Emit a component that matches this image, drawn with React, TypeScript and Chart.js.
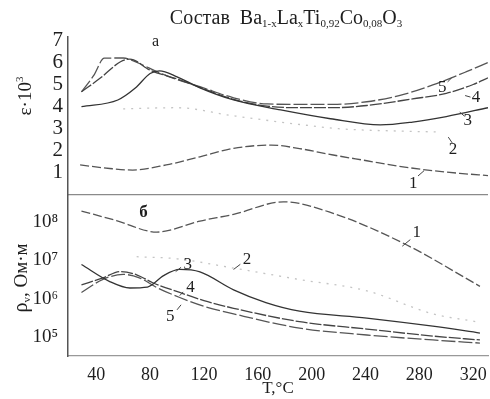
import React, { useEffect, useRef } from "react";
import { Chart, registerables } from "chart.js";

Chart.register(...registerables);

const FONT = "'Liberation Serif', 'DejaVu Serif', 'Times New Roman', serif";

// Temperature ticks (°C)
const T_TICKS = [40, 80, 120, 160, 200, 240, 280, 320];
// ε·10³ ticks
const EPS_TICKS = [0, 1, 2, 3, 4, 5, 6, 7];
// ρv ticks (Ом·м)
const RHO_TICKS = [1e5, 1e6, 1e7, 1e8];
const RHO_TICK_LABELS = ["10⁵", "10⁶", "10⁷", "10⁸"];

// ---- Panel а: ε·10³ vs T ----
const eps1T = [28, 50, 67, 92, 117, 142, 170, 191, 216, 241, 265, 290, 310, 331];
const eps1 = [1.36, 1.2, 1.13, 1.36, 1.73, 2.11, 2.26, 2.1, 1.81, 1.55, 1.3, 1.1, 0.98, 0.88];

const eps2T = [60, 100, 140, 190, 220, 260, 295];
const eps2 = [3.9, 3.95, 3.6, 3.2, 3.0, 2.9, 2.85];

const eps3T = [29, 56, 69, 80, 87, 100, 117, 142, 177, 214, 251, 275, 300, 331];
const eps3 = [4.0, 4.3, 4.84, 5.5, 5.62, 5.35, 4.85, 4.3, 3.85, 3.45, 3.17, 3.3, 3.55, 3.95];

const eps4T = [29, 43, 58, 65, 80, 100, 117, 142, 167, 191, 216, 241, 275, 300, 320, 331];
const eps4 = [4.67, 5.29, 6.03, 6.15, 5.65, 5.25, 4.87, 4.33, 4.02, 3.95, 3.95, 4.05, 4.35, 4.6, 5.0, 5.3];

const eps5T = [29, 38, 46, 60, 72, 85, 100, 117, 142, 167, 191, 216, 241, 265, 290, 315, 331];
const eps5 = [4.67, 5.4, 6.19, 6.2, 5.95, 5.58, 5.22, 4.9, 4.4, 4.12, 4.1, 4.1, 4.22, 4.5, 4.98, 5.58, 6.0];

// ---- Panel б: ρv (Ом·м) vs T ----
const rho1T = [29, 55, 85, 117, 142, 179, 216, 270, 325];
const rho1 = [1.95e8, 1.1e8, 5.5e7, 1.07e8, 1.6e8, 3.4e8, 1.7e8, 2.6e7, 2.1e6];

const rho2T = [70, 100, 142, 190, 241, 290, 322];
const rho2 = [1.25e7, 1.1e7, 6.3e6, 3.2e6, 1.6e6, 4.0e5, 2.5e5];

const rho3T = [29, 50, 65, 78, 90, 102, 117, 142, 166, 191, 241, 290, 325];
const rho3 = [7.8e6, 2.8e6, 1.9e6, 2.0e6, 4.0e6, 5.8e6, 5.0e6, 1.7e6, 7.9e5, 4.7e5, 3.1e5, 1.9e5, 1.26e5];

const rho4T = [29, 45, 58, 70, 82, 102, 120, 142, 191, 241, 290, 325];
const rho4 = [2.3e6, 3.5e6, 5.1e6, 4.2e6, 2.6e6, 1.45e6, 8.9e5, 5.6e5, 2.5e5, 1.6e5, 1.05e5, 8.3e4];

const rho5T = [29, 45, 60, 72, 85, 102, 120, 142, 191, 241, 290, 325];
const rho5 = [1.45e6, 3.2e6, 4.3e6, 3.5e6, 1.95e6, 1.07e6, 6.3e5, 4.0e5, 1.7e5, 1.12e5, 8.3e4, 6.9e4];

// Curve number labels: [text, T, value, leader T1, leader v1, leader T2, leader v2]
const EPS_LABELS: [string, number, number, number, number, number, number][] = [
  ["5", 297, 4.85, 301, 5.12, 304, 5.3],
  ["4", 322, 4.39, 314, 4.5, 318, 4.43],
  ["3", 316, 3.39, 310, 3.75, 313.5, 3.57],
  ["2", 305, 2.04, 301.5, 2.62, 304.5, 2.35],
  ["1", 275.5, 0.54, 279, 0.86, 283.5, 1.1],
];
const RHO_LABELS: [string, number, number, number, number, number, number][] = [
  ["1", 278, 5.5e7, 273.3, 3.5e7, 267.3, 2.35e7],
  ["2", 152, 1.07e7, 147, 7.9e6, 142, 5.8e6],
  ["3", 108, 7.8e6, 103, 6.6e6, 99, 5.1e6],
  ["4", 110, 1.95e6, 104.6, 1.5e6, 102, 1.2e6],
  ["5", 95, 3.4e5, 100, 5.1e5, 103, 6.9e5],
];
const PANEL_A: [string, number, number] = ["а", 84, 6.92];
const PANEL_B: [string, number, number] = ["б", 75, 1.8e8];

const pts = (xs: number[], ys: number[]) => xs.map((x, i) => ({ x, y: ys[i] }));

const INK = "#1e1e1e";

const annotPlugin = {
  id: "annot",
  afterDatasetsDraw(chart: any) {
    const ctx = chart.ctx as CanvasRenderingContext2D;
    const sx = chart.scales.x;
    const sE = chart.scales.yE;
    const sR = chart.scales.yR;
    ctx.save();
    ctx.fillStyle = INK;
    ctx.strokeStyle = "#444";
    ctx.lineWidth = 1;
    ctx.textBaseline = "middle";
    ctx.textAlign = "center";

    const drawLabels = (list: any[], sc: any) => {
      ctx.font = `17px ${FONT}`;
      for (const [t, T, v, t1, v1, t2, v2] of list) {
        ctx.fillText(t, sx.getPixelForValue(T), sc.getPixelForValue(v));
        ctx.beginPath();
        ctx.moveTo(sx.getPixelForValue(t1), sc.getPixelForValue(v1));
        ctx.lineTo(sx.getPixelForValue(t2), sc.getPixelForValue(v2));
        ctx.stroke();
      }
    };
    drawLabels(EPS_LABELS, sE);
    drawLabels(RHO_LABELS, sR);

    ctx.font = `16px ${FONT}`;
    ctx.fillText(PANEL_A[0], sx.getPixelForValue(PANEL_A[1]), sE.getPixelForValue(PANEL_A[2]));
    ctx.font = `bold 17px ${FONT}`;
    ctx.fillText(PANEL_B[0], sx.getPixelForValue(PANEL_B[1]), sR.getPixelForValue(PANEL_B[2]));

    // title with subscripts
    const parts: [string, boolean][] = [
      ["Состав  ", false], ["Ba", false], ["1-x", true], ["La", false], ["x", true],
      ["Ti", false], ["0,92", true], ["Co", false], ["0,08", true], ["O", false], ["3", true],
    ];
    const big = `20px ${FONT}`;
    const small = `11px ${FONT}`;
    let w = 0;
    for (const [s, sub] of parts) {
      ctx.font = sub ? small : big;
      w += ctx.measureText(s).width;
    }
    let x = 286 - w / 2;
    ctx.textAlign = "left";
    ctx.textBaseline = "alphabetic";
    for (const [s, sub] of parts) {
      ctx.font = sub ? small : big;
      ctx.fillText(s, x, sub ? 27 : 24);
      x += ctx.measureText(s).width;
    }

    // y-axis titles
    const drawRot = (cx: number, cy: number, segs: [string, string, number][]) => {
      ctx.save();
      ctx.translate(cx, cy);
      ctx.rotate(-Math.PI / 2);
      let tw = 0;
      for (const [s, f] of segs) { ctx.font = f; tw += ctx.measureText(s).width; }
      let px = -tw / 2;
      ctx.textAlign = "left";
      ctx.textBaseline = "alphabetic";
      for (const [s, f, dy] of segs) {
        ctx.font = f;
        ctx.fillText(s, px, 7 + dy);
        px += ctx.measureText(s).width;
      }
      ctx.restore();
    };
    drawRot(24, 96, [["ε·10", `19px ${FONT}`, 0], ["3", `11px ${FONT}`, -8]]);
    drawRot(20, 278, [["ρ", `20px ${FONT}`, 0], ["v", `11px ${FONT}`, 3], [", Ом·м", `19px ${FONT}`, 0]]);
    ctx.restore();
  },
};

export default function App() {
  const ref = useRef<HTMLCanvasElement>(null);
  useEffect(() => {
    const common = { pointRadius: 0, borderWidth: 1.3, tension: 0.4, cubicInterpolationMode: "monotone" as const, fill: false };
    const chart = new Chart(ref.current!, {
      type: "line",
      data: {
        datasets: [
          { ...common, data: pts(eps1T, eps1), yAxisID: "yE", borderColor: "#555", borderDash: [9, 3] },
          { ...common, data: pts(eps2T, eps2), yAxisID: "yE", borderColor: "#c4c4c4", borderDash: [2, 6] },
          { ...common, data: pts(eps3T, eps3), yAxisID: "yE", borderColor: "#333" },
          { ...common, data: pts(eps4T, eps4), yAxisID: "yE", borderColor: "#444", borderDash: [12, 2] },
          { ...common, data: pts(eps5T, eps5), yAxisID: "yE", borderColor: "#555", borderDash: [14, 3] },
          { ...common, data: pts(rho1T, rho1), yAxisID: "yR", borderColor: "#555", borderDash: [9, 3] },
          { ...common, data: pts(rho2T, rho2), yAxisID: "yR", borderColor: "#c4c4c4", borderDash: [2, 6] },
          { ...common, data: pts(rho3T, rho3), yAxisID: "yR", borderColor: "#333" },
          { ...common, data: pts(rho4T, rho4), yAxisID: "yR", borderColor: "#444", borderDash: [12, 2] },
          { ...common, data: pts(rho5T, rho5), yAxisID: "yR", borderColor: "#555", borderDash: [14, 3] },
        ] as any,
      },
      options: {
        animation: false,
        responsive: false,
        events: [],
        layout: { padding: { top: 37, right: 2, left: 0, bottom: 0 } },
        plugins: { legend: { display: false }, tooltip: { enabled: false }, title: { display: false } },
        scales: {
          x: {
            type: "linear",
            min: 19,
            max: 331,
            afterBuildTicks: (s: any) => { s.ticks = T_TICKS.map((v) => ({ value: v })); },
            afterFit: (s: any) => { s.height = 43; },
            grid: { display: false },
            border: { display: true, color: "#999", width: 1.2, dash: [6, 2] },
            ticks: { padding: 0, autoSkip: false, maxRotation: 0, color: INK, font: { family: FONT, size: 18 } },
            title: { display: true, text: "T,°C", color: INK, font: { family: FONT, size: 17 }, padding: { top: 0, bottom: 0 } },
          },
          yR: {
            type: "logarithmic",
            position: "left",
            stack: "panels",
            stackWeight: 161,
            min: 31623,
            max: 5.13e8,
            afterBuildTicks: (s: any) => { s.ticks = RHO_TICKS.map((v) => ({ value: v })); },
            afterFit: (s: any) => { s.width = 68; },
            grid: { display: false },
            border: { display: true, color: "#555", width: 1.5 },
            ticks: {
              padding: 2,
              autoSkip: false,
              color: INK,
              font: { family: FONT, size: 19 },
              callback: (v: any) => {
                const i = RHO_TICKS.indexOf(Number(v));
                return i >= 0 ? RHO_TICK_LABELS[i] : "";
              },
            },
          },
          yE: {
            type: "linear",
            position: "left",
            stack: "panels",
            stackWeight: 158,
            min: 0,
            max: 7.15,
            afterBuildTicks: (s: any) => { s.ticks = EPS_TICKS.map((v) => ({ value: v })); },
            afterFit: (s: any) => { s.width = 68; },
            grid: {
              drawTicks: false,
              lineWidth: 1.2,
              color: (c: any) => (c.tick && c.tick.value === 0 ? "#8a8a8a" : "rgba(0,0,0,0)"),
            },
            border: { display: true, color: "#555", width: 1.5 },
            ticks: {
              padding: 5,
              autoSkip: false,
              color: INK,
              font: { family: FONT, size: 21 },
              callback: (v: any) => (Number(v) === 0 ? "" : String(v)),
            },
          },
        } as any,
      },
      plugins: [annotPlugin],
    });
    return () => chart.destroy();
  }, []);
  return (
    <div style={{ position: "fixed", left: 0, top: 0, width: 490, height: 399, background: "#fff" }}>
      <canvas ref={ref} width={490} height={399} style={{ width: 490, height: 399, display: "block" }} />
    </div>
  );
}
